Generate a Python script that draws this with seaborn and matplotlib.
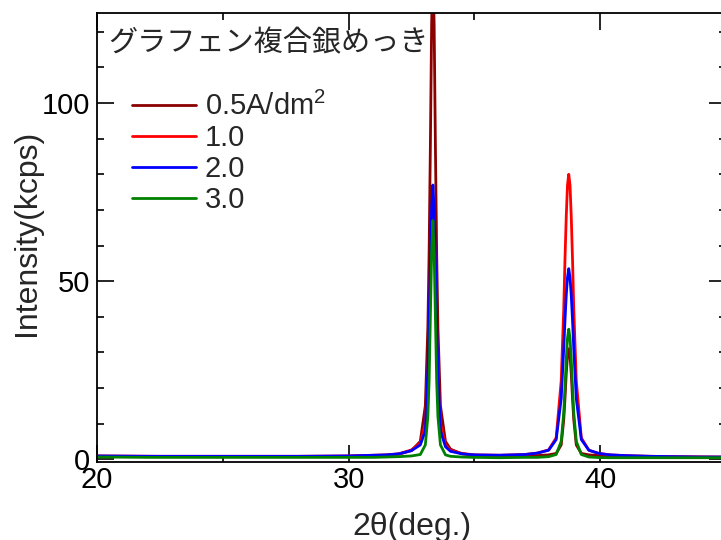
import numpy as np
import pandas as pd
import matplotlib
matplotlib.use("Agg")
import matplotlib.pyplot as plt
import seaborn as sns
from matplotlib.ticker import MultipleLocator

# 2theta grid (deg.), denser around the Ag peaks
two_theta = [20, 22, 24, 26, 28, 30, 31, 31.5, 32, 32.5, 32.85,
             33.05, 33.15, 33.2, 33.25, 33.3, 33.35, 33.4, 33.45, 33.5, 33.55,
             33.65, 33.85, 34.05, 34.5, 35, 36, 37, 37.5, 37.95, 38.25, 38.45,
             38.55, 38.6, 38.65, 38.7, 38.75, 38.8, 38.85, 38.9, 38.95, 39.05,
             39.25, 39.55, 39.95, 40.4, 41, 42, 43, 44, 45]

# intensity (kcps)
i_05 = [0.8, 0.8, 0.7, 0.7, 0.7, 0.8, 1.0, 1.1, 1.4, 2.4, 5,
        15, 37, 58, 88, 122, 140, 122, 88, 58, 37,
        15, 5, 2.8, 1.5, 1.1, 0.9, 0.9, 1.0, 1.2, 1.6, 4,
        11, 17, 24, 29, 31, 29, 24, 17, 11, 4,
        1.6, 1.2, 1.0, 0.9, 0.8, 0.7, 0.6, 0.6, 0.5]
i_10 = [0.9, 0.8, 0.8, 0.8, 0.8, 0.9, 1.1, 1.2, 1.5, 2.6, 4.5,
        10, 25, 37, 53, 67, 73, 67, 53, 37, 25,
        10, 4, 2.5, 1.6, 1.2, 1.1, 1.3, 1.7, 2.6, 6, 22,
        42, 56, 68, 77, 80, 77, 68, 56, 42, 22,
        6, 2.5, 1.6, 1.2, 1.0, 0.8, 0.7, 0.6, 0.6]
i_20 = [0.9, 0.8, 0.8, 0.8, 0.8, 0.9, 1.1, 1.2, 1.5, 2.4, 4,
        8, 25, 38, 55, 70, 77, 70, 55, 38, 25,
        8, 3.5, 2.2, 1.5, 1.2, 1.1, 1.3, 1.7, 2.5, 5.5, 17,
        31, 39, 46, 51, 53.5, 51, 46, 39, 31, 17,
        5.5, 2.5, 1.6, 1.2, 1.0, 0.8, 0.7, 0.6, 0.6]
i_30 = [0.6, 0.5, 0.5, 0.5, 0.5, 0.5, 0.5, 0.6, 0.7, 0.9, 1.3,
        4, 12, 22, 40, 58, 67, 58, 40, 22, 12,
        4, 1.2, 0.8, 0.6, 0.5, 0.4, 0.5, 0.5, 0.7, 1.3, 5,
        13, 20, 28, 34, 36.5, 34, 28, 20, 13, 5,
        1.3, 0.6, 0.45, 0.4, 0.4, 0.4, 0.4, 0.4, 0.4]

labels = ["0.5A/dm$^{2}$", "1.0", "2.0", "3.0"]
colors = ["#8b0000", "#ff0000", "#0000ff", "#008000"]

df = pd.concat([
    pd.DataFrame({"2theta": two_theta, "I": y, "cd": lab})
    for y, lab in zip([i_05, i_10, i_20, i_30], labels)
])

sns.set_style("ticks")
plt.rcParams["font.family"] = ["Liberation Sans", "Noto Sans CJK JP"]
plt.rcParams["mathtext.fontset"] = "custom"
plt.rcParams["mathtext.rm"] = "Liberation Sans"
plt.rcParams["mathtext.default"] = "regular"

fig = plt.figure(figsize=(7.21, 5.4), dpi=100)
# right spine sits just past the picture edge, as in the reference
ax = fig.add_axes([97 / 721, 1 - 462 / 540, (726 - 97) / 721, (462 - 13) / 540])

sns.lineplot(data=df, x="2theta", y="I", hue="cd", hue_order=labels,
             palette=colors, linewidth=2.0, ax=ax, sort=False)

ax.set_xlim(20, 45)
ax.set_ylim(-0.8, 125.3)
ax.xaxis.set_major_locator(MultipleLocator(10))
ax.xaxis.set_minor_locator(MultipleLocator(5))
ax.yaxis.set_major_locator(MultipleLocator(50))
ax.yaxis.set_minor_locator(MultipleLocator(10))
ax.tick_params(which="both", direction="in", top=True, right=True,
               width=1.2, labelsize=21, colors="black")
ax.tick_params(which="major", length=12)
ax.tick_params(which="minor", length=5)
ax.tick_params(axis="y", pad=5)
ax.tick_params(axis="x", pad=3)
for s in ax.spines.values():
    s.set_linewidth(1.3)
    s.set_color("black")

ax.set_xlabel("2θ(deg.)", fontsize=23, labelpad=13)
ax.set_ylabel("Intensity(kcps)", fontsize=23)
ax.yaxis.set_label_coords(-0.087, 0.51)

ax.text(108 / 721, 1 - 43 / 540, "グラフェン複合銀めっき", transform=fig.transFigure,
        fontsize=21, family=["Noto Sans CJK JP"], va="center", ha="left")

leg = ax.legend(loc="upper left", bbox_to_anchor=(132 / 721, 1 - 92 / 540),
                bbox_transform=fig.transFigure, frameon=False, fontsize=21,
                handlelength=2.2, handletextpad=0.3, labelspacing=0.1,
                borderpad=0, borderaxespad=0)
for h in leg.get_lines():
    h.set_linewidth(2.0)

fig.savefig("out.png", dpi=100)
